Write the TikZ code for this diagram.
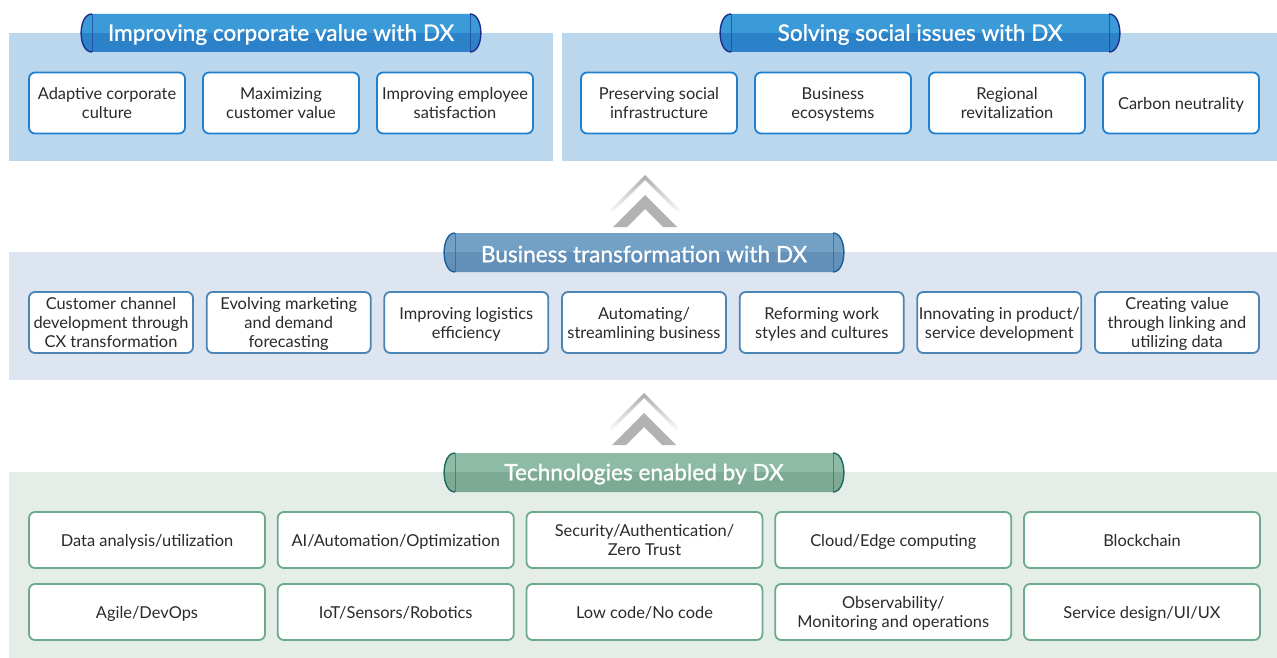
\documentclass[tikz,border=0pt]{standalone}
\usepackage{fontspec}
\setmainfont{Lato}
\newfontfamily\bannerfont[FakeBold=1]{Lato}
\usetikzlibrary{positioning}
\definecolor{panelTop}{HTML}{BBD7EE}
\definecolor{panelMid}{HTML}{DDE5F1}
\definecolor{panelBot}{HTML}{E5EDE9}
\definecolor{boxTopC}{HTML}{1F80CF}
\definecolor{boxMidC}{HTML}{4A85B6}
\definecolor{boxBotC}{HTML}{6DAA8C}
\definecolor{txt}{HTML}{2A2A2A}
\definecolor{tbtop}{HTML}{3B9BD8}
\definecolor{tbbot}{HTML}{2B82C9}
\definecolor{tbedge}{HTML}{1E2D8C}
\definecolor{mbtop}{HTML}{72A1C5}
\definecolor{mbbot}{HTML}{6290B8}
\definecolor{mbedge}{HTML}{1B5F96}
\definecolor{bbtop}{HTML}{8DBBA5}
\definecolor{bbbot}{HTML}{7DAA95}
\definecolor{bbedge}{HTML}{1B6A5E}
\tikzset{
  card/.style={draw, fill=white, line width=1.8pt, rounded corners=6pt, align=center,
    text=txt, font=\fontsize{16.4}{19}\selectfont, inner sep=1pt, text depth=0pt,
    execute at begin node={\rule{0pt}{13.4pt}}},
  topcard/.style={card, draw=boxTopC, minimum width=156pt, minimum height=61pt},
  midcard/.style={card, draw=boxMidC, minimum width=164pt, minimum height=61pt},
  botcard/.style={card, draw=boxBotC, minimum width=236pt, minimum height=56pt},
  bannertext/.style={text=white, font=\bannerfont\fontsize{22.6}{25}\selectfont, inner sep=0pt},
  chev/.style={fill=gray!60},
  chevfade/.style={top color=gray!65, bottom color=white}
}
\newcommand{\dxbanner}[8]{%
  \begin{scope}
    \clip ({#2},{#4}) .. controls ({#2-14.5},{#4}) and ({#2-14.5},{#6}) .. ({#2},{#6})
      -- ({#3},{#6}) .. controls ({#3+14.5},{#6}) and ({#3+14.5},{#4}) .. ({#3},{#4}) -- cycle;
    \fill[#7top] ({#2-20},{#4-1}) rectangle ({#3+20},{#5});
    \fill[#7bot] ({#2-20},{#5}) rectangle ({#3+20},{#6+1});
  \end{scope}
  \draw[#7edge, line width=1.4pt] ({#2},{#4}) .. controls ({#2-14.5},{#4}) and ({#2-14.5},{#6}) .. ({#2},{#6});
  \draw[#7edge, line width=1.4pt] ({#3},{#4}) .. controls ({#3+14.5},{#4}) and ({#3+14.5},{#6}) .. ({#3},{#6});
  \draw[#7edge, line width=0.6pt, opacity=0.6] ({#2},{#4}) -- ({#2},{#6});
  \draw[#7edge, line width=0.6pt, opacity=0.6] ({#3},{#4}) -- ({#3},{#6});
  \node[bannertext] (#1) at ({(#2+#3)/2},{(#4+#6)/2+1.5}) {#8};
}
\newcommand{\dxchevron}[2]{% x center, apex y of outer
  \shade[chevfade] ({#1-34},{#2+34}) -- ({#1},{#2}) -- ({#1+34},{#2+34}) -- ({#1+34},{#2+39})
     -- ({#1},{#2+5}) -- ({#1-34},{#2+39}) -- cycle;
  \fill[chev] ({#1-32},{#2+52}) -- ({#1},{#2+20}) -- ({#1+32},{#2+52}) -- ({#1+18},{#2+52})
     -- ({#1},{#2+34}) -- ({#1-18},{#2+52}) -- cycle;
}
\begin{document}
\begin{tikzpicture}[x=1pt,y=-1pt]
\useasboundingbox (0,0) rectangle (1277,658);
\fill[white] (0,0) rectangle (1277,658);
% panels
\fill[panelTop] (9,33) rectangle (553,161);
\fill[panelTop] (562,33) rectangle (1277,161);
\fill[panelMid] (9,252) rectangle (1277,380);
\fill[panelBot] (9,472) rectangle (1277,658);
% banners
\dxbanner{bA}{92}{470}{14}{33}{52}{tb}{Improving corporate value with DX}
\dxbanner{bB}{731}{1109}{14}{33}{52}{tb}{Solving social issues with DX}
\dxbanner{bC}{455}{833}{233}{252}{272}{mb}{Business transformation with DX}
\dxbanner{bD}{455}{833}{453}{472}{492}{bb}{Technologies enabled by DX}
% chevrons
\dxchevron{645}{175}
\dxchevron{644}{393}
% top boxes
\node[topcard] (t1) at (107,103) {Adaptive corporate\\culture};
\node[topcard] (t2) at (281,103) {Maximizing\\customer value};
\node[topcard] (t3) at (455,103) {Improving employee\\satisfaction};
\node[topcard] (t4) at (659,103) {Preserving social\\infrastructure};
\node[topcard] (t5) at (833,103) {Business\\ecosystems};
\node[topcard] (t6) at (1007,103) {Regional\\revitalization};
\node[topcard] (t7) at (1181,103) {Carbon neutrality};
% middle boxes
\node[midcard] (m1) at (111,322.5) {Customer channel\\development through\\CX transformation};
\node[midcard] (m2) at (288.7,322.5) {Evolving marketing\\and demand\\forecasting};
\node[midcard] (m3) at (466.3,322.5) {Improving logistics\\efficiency};
\node[midcard] (m4) at (644,322.5) {Automating/\\streamlining business};
\node[midcard] (m5) at (821.7,322.5) {Reforming work\\styles and cultures};
\node[midcard] (m6) at (999.3,322.5) {Innovating in product/\\service development};
\node[midcard] (m7) at (1177,322.5) {Creating value\\through linking and\\utilizing data};
% bottom boxes
\node[botcard] (b1) at (147,540) {Data analysis/utilization};
\node[botcard] (b2) at (395.75,540) {AI/Automation/Optimization};
\node[botcard] (b3) at (644.5,540) {Security/Authentication/\\Zero Trust};
\node[botcard] (b4) at (893.25,540) {Cloud/Edge computing};
\node[botcard] (b5) at (1142,540) {Blockchain};
\node[botcard] (b6) at (147,612) {Agile/DevOps};
\node[botcard] (b7) at (395.75,612) {IoT/Sensors/Robotics};
\node[botcard] (b8) at (644.5,612) {Low code/No code};
\node[botcard] (b9) at (893.25,612) {Observability/\\Monitoring and operations};
\node[botcard] (b10) at (1142,612) {Service design/UI/UX};
\end{tikzpicture}
\end{document}
